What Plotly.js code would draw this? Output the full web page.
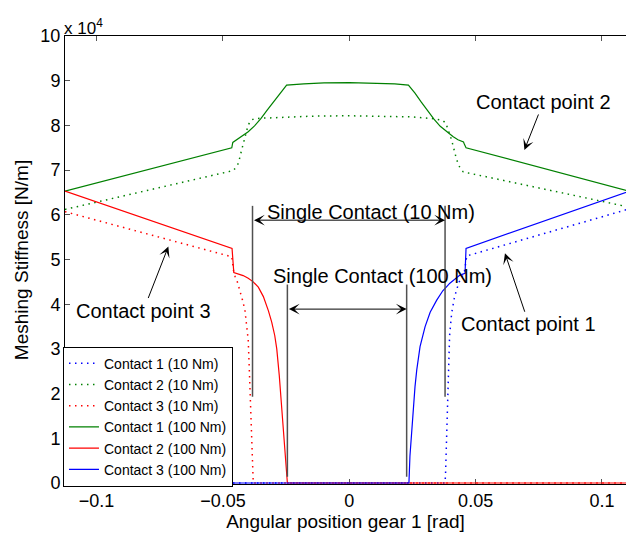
<!DOCTYPE html>
<html>
<head>
<meta charset="utf-8">
<script src="https://cdn.plot.ly/plotly-3.0.1.min.js"></script>
<style>
  html, body { margin: 0; padding: 0; background: #fff; }
  #chart { width: 626px; height: 535px; }
</style>
</head>
<body>
<div id="chart"></div>
<script>
// Meshing stiffness of the three contact points versus angular position of gear 1,
// for a light (10 Nm) and a heavy (100 Nm) transmitted torque. Stiffness in N/m.

// Contact 1, 10 Nm (dotted blue)
const c1_10_x = [-0.1125, 0.0379, 0.0381, 0.0383, 0.0385, 0.0388, 0.0392, 0.0397, 0.0405, 0.0415, 0.0425, 0.0435, 0.0448, 0.0456, 0.0465, 0.1125];
const c1_10_y = [0, 0, 2200, 6000, 12000, 20000, 28000, 33000, 38000, 41200, 43300, 45000, 46300, 47500, 50800, 61600];

// Contact 2, 10 Nm (dotted green)
const c2_10_x = [-0.1125, -0.0459, -0.0450, -0.0439, -0.0426, -0.0413, -0.0400, -0.0388, -0.0375, -0.035, -0.025, -0.013, 0, 0.013, 0.025, 0.0333, 0.0370, 0.0382, 0.0392, 0.0405, 0.0415, 0.0425, 0.0438, 0.0451, 0.1125];
const c2_10_y = [61200, 69900, 70500, 71500, 74500, 77100, 80100, 81200, 81500, 81600, 81900, 82100, 82150, 82100, 81900, 81500, 81100, 80500, 79000, 76700, 74500, 72300, 70500, 69600, 61500];

// Contact 3, 10 Nm (dotted red)
const c3_10_x = [-0.1125, -0.0465, -0.0458, -0.0452, -0.0443, -0.0433, -0.0423, -0.0413, -0.0405, -0.0400, -0.0396, -0.0393, -0.0389, -0.0386, -0.0384, -0.0382, -0.0380, 0.1125];
const c3_10_y = [60700, 50600, 47500, 46200, 45000, 43200, 41000, 38700, 35000, 32000, 26000, 20000, 14500, 11000, 6000, 2200, 0, 0];

// Contact 1, 100 Nm (solid green)
const c1_100_x = [-0.1125, -0.0465, -0.0461, -0.0445, -0.0425, -0.0400, -0.0375, -0.0350, -0.0325, -0.0300, -0.0275, -0.0248, -0.018, -0.010, 0, 0.010, 0.018, 0.0234, 0.0260, 0.0285, 0.0310, 0.0335, 0.0360, 0.0385, 0.0410, 0.0430, 0.0452, 0.0456, 0.0462, 0.1125];
const c1_100_y = [65300, 75000, 76200, 76800, 77500, 78600, 79900, 81500, 83400, 85300, 87100, 89000, 89300, 89500, 89550, 89500, 89300, 89000, 87200, 85200, 83200, 81400, 79800, 78600, 77500, 76800, 76300, 75700, 75000, 65000];

// Contact 2, 100 Nm (solid red)
const c2_100_x = [-0.1125, -0.0464, -0.0457, -0.0440, -0.0420, -0.0400, -0.0380, -0.0360, -0.0340, -0.0320, -0.0307, -0.0295, -0.0287, -0.0277, -0.0268, -0.0260, -0.0254, -0.0249, -0.0245, 0.1125];
const c2_100_y = [65300, 52500, 47100, 46800, 46400, 45800, 45000, 43800, 41700, 38500, 36000, 33000, 30000, 24000, 17500, 11500, 7500, 3000, 0, 0];

// Contact 3, 100 Nm (solid blue)
const c3_100_x = [-0.1125, 0.0236, 0.0240, 0.0245, 0.0253, 0.0260, 0.0267, 0.0280, 0.0300, 0.0320, 0.0346, 0.0370, 0.0398, 0.0420, 0.0438, 0.0458, 0.0462, 0.1125];
const c3_100_y = [0, 0, 6000, 10500, 16300, 21500, 25300, 30500, 35000, 38200, 40900, 43000, 44700, 45800, 46500, 46900, 52500, 65600];

// Axis ticks
const xTicks = [-0.1, -0.05, 0, 0.05, 0.1];
const yTickVals = [0, 10000, 20000, 30000, 40000, 50000, 60000, 70000, 80000, 90000, 100000];
const yTickText = ['0', '1', '2', '3', '4', '5', '6', '7', '8', '9', '10'];

// Single contact zones (edges in rad) for both torques
const single10 = [-0.0383, 0.0379];
const single100 = [-0.0245, 0.0227];

const FONT = 'Liberation Sans, Arial, Helvetica, sans-serif';
const BLUE = '#0000ff', GREEN = '#008000', RED = '#ff0000';
const DOTS = '1.5px,4.5px';

const traces = [
  { x: c1_10_x, y: c1_10_y, name: 'Contact 1 (10 Nm)', line: { color: BLUE, width: 1.5, dash: DOTS } },
  { x: c2_10_x, y: c2_10_y, name: 'Contact 2 (10 Nm)', line: { color: GREEN, width: 1.5, dash: DOTS } },
  { x: c3_10_x, y: c3_10_y, name: 'Contact 3 (10 Nm)', line: { color: RED, width: 1.5, dash: DOTS } },
  { x: c1_100_x, y: c1_100_y, name: 'Contact 1 (100 Nm)', line: { color: GREEN, width: 1.2 } },
  { x: c2_100_x, y: c2_100_y, name: 'Contact 2 (100 Nm)', line: { color: RED, width: 1.2 } },
  { x: c3_100_x, y: c3_100_y, name: 'Contact 3 (100 Nm)', line: { color: BLUE, width: 1.2 } }
].map(t => Object.assign({ type: 'scatter', mode: 'lines', hoverinfo: 'skip' }, t));

const vline = (x, y0, y1) => ({
  type: 'line', xref: 'x', yref: 'y', x0: x, x1: x, y0: y0, y1: y1,
  line: { color: '#505050', width: 1.5 }
});

const shapes = [
  vline(single10[0], 19300, 62000),
  vline(single10[1], 19300, 62000),
  vline(single100[0], 1400, 44400),
  vline(single100[1], 1400, 44400)
];

const dblArrow = (x0, x1, y) => ({
  x: x1, y: y, ax: x0, ay: y, xref: 'x', yref: 'y', axref: 'x', ayref: 'y',
  text: '', showarrow: true, arrowside: 'end+start',
  arrowhead: 3, startarrowhead: 3, arrowsize: 1.8, startarrowsize: 1.8,
  arrowwidth: 1, arrowcolor: '#000', standoff: 0, startstandoff: 0
});

const pointer = (label, x, y, ax, ay) => ({
  x: x, y: y, xref: 'x', yref: 'y', ax: ax, ay: ay,
  text: label, showarrow: true, arrowhead: 3, arrowsize: 1.8, arrowwidth: 1,
  arrowcolor: '#000', standoff: 0, font: { family: FONT, size: 20, color: '#000' }
});

const annotations = [
  dblArrow(single10[0], single10[1], 58800),
  dblArrow(single100[0], single100[1], 38900),
  { x: 0.0086, y: 60600, xref: 'x', yref: 'y', text: 'Single Contact (10 Nm)', showarrow: false,
    font: { family: FONT, size: 20, color: '#000' } },
  { x: 0.0132, y: 46300, xref: 'x', yref: 'y', text: 'Single Contact (100 Nm)', showarrow: false,
    font: { family: FONT, size: 20, color: '#000' } },
  pointer('Contact point 2', 0.0693, 74500, 19, -48),
  pointer('Contact point 1', 0.0616, 51400, 24, 71),
  pointer('Contact point 3', -0.0716, 52900, -25, 64),
  { xref: 'paper', yref: 'paper', x: -0.005, y: 0.99, xanchor: 'left', yanchor: 'bottom',
    text: 'x 10<sup>4</sup>', showarrow: false, font: { family: FONT, size: 17, color: '#000' } }
];

const layout = {
  width: 626, height: 535,
  margin: { l: 65, r: 0, t: 36, b: 51, pad: 0 },
  paper_bgcolor: '#fff', plot_bgcolor: '#fff',
  font: { family: FONT, size: 18, color: '#000' },
  showlegend: true,
  legend: {
    x: -0.0036, y: 0.3065, xanchor: 'left', yanchor: 'top',
    bgcolor: '#fff', bordercolor: '#000', borderwidth: 1,
    font: { family: FONT, size: 14, color: '#000' }, traceorder: 'normal'
  },
  xaxis: {
    range: [-0.1125, 0.1095], tickvals: xTicks, ticks: 'inside', ticklen: 5,
    tickcolor: '#555', showline: true, linecolor: '#000', linewidth: 1, mirror: 'ticks',
    showgrid: false, zeroline: false, layer: 'below traces', automargin: false,
    tickfont: { family: FONT, size: 18, color: '#000' },
    title: { text: 'Angular position gear 1 [rad]', font: { family: FONT, size: 19, color: '#000' }, standoff: 4 }
  },
  yaxis: {
    range: [-224, 100000], tickvals: yTickVals, ticktext: yTickText, ticks: 'inside', ticklen: 5,
    tickcolor: '#555', showline: true, linecolor: '#000', linewidth: 1, mirror: false,
    showgrid: false, zeroline: false, layer: 'below traces', automargin: false,
    tickfont: { family: FONT, size: 18, color: '#000' },
    title: { text: 'Meshing Stiffness [N/m]', font: { family: FONT, size: 19, color: '#000' }, standoff: 6 }
  },
  shapes: shapes,
  annotations: annotations
};

Plotly.newPlot('chart', traces, layout, { staticPlot: true, displayModeBar: false });
</script>
</body>
</html>
